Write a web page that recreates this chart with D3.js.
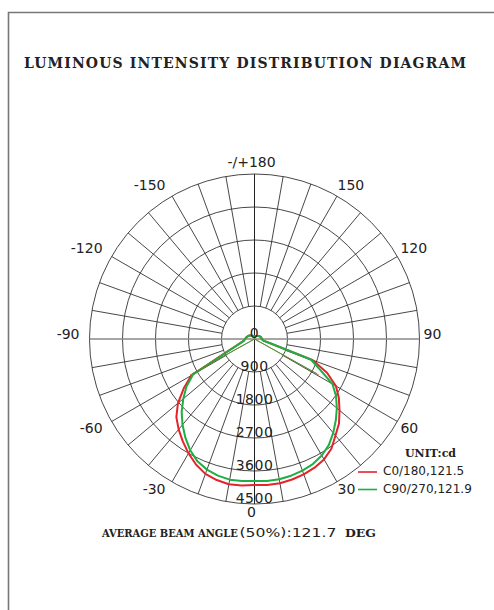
<!DOCTYPE html>
<html><head><meta charset="utf-8">
<script src="https://cdn.jsdelivr.net/npm/d3@7"></script>
<style>html,body{margin:0;padding:0;background:#fff;} svg{display:block;}</style>
</head><body><svg id="c" width="494" height="610"></svg>
<script>
// ---- data ----
const gammaAngles = [0,5,10,15,20,25,30,35,40,45,50,55,60,65,70,75,80,85,90,95,100,105,110,115,120,125,130,135,140,145,150,155,160,165,170,175,180];
const c0Values   = [3982,3995,3995,3968,3927,3873,3791,3655,3436,3259,3027,2809,2564,2182,1691,436,245,218,196,196,191,183,175,164,150,139,131,120,109,101,93,85,79,76,74,71,71];
const c180Values = [3982,4009,4023,3982,3914,3777,3600,3409,3218,3014,2727,2359,1991,845,518,382,300,273,259,245,232,218,205,191,177,164,150,136,123,112,104,95,87,82,76,74,71];
const c90Values  = [3873,3886,3886,3859,3818,3764,3668,3532,3341,3136,2932,2714,2455,1964,1636,423,245,218,196,196,191,183,175,164,150,139,131,120,109,101,93,85,79,76,74,71,71];
const c270Values = [3873,3886,3895,3859,3791,3682,3505,3286,3055,2809,2536,2264,1936,807,510,376,300,273,259,245,232,218,205,191,177,164,150,136,123,112,104,95,87,82,76,74,71];
const seriesNames = ["C0/180,121.5","C90/270,121.9"];
const beamAngles = [121.5,121.9];
const averageBeam = 121.7;
const ringValues = [0,900,1800,2700,3600,4500];
const angleTicks = [0,30,60,90,120,150,180,-150,-120,-90,-60,-30];
const angleLabels = ["0","30","60","90","120","150","-/+180","-150","-120","-90","-60","-30"];
const spokeAngles = [0,10,20,30,40,50,60,70,80,90,100,110,120,130,140,150,160,170,180,190,200,210,220,230,240,250,260,270,280,290,300,310,320,330,340,350];

// ---- layout ----
const W = 494, H = 610;
const cx = 254.5, cy = 339, R = 165;
const svg = d3.select("#c");
const rad = d => d * Math.PI / 180;
const r = d3.scaleLinear().domain([0, 4500]).range([0, R]);

// frame
svg.append("path").attr("d", `M8.5,${H} L8.5,12.5 L${W},12.5`)
  .attr("fill","none").attr("stroke","#777").attr("stroke-width",1.6);

// title
svg.append("text").attr("x",24).attr("y",68)
  .attr("textLength",442).attr("lengthAdjust","spacing")
  .style("font-family","'DejaVu Serif'").style("font-weight","bold").style("font-size","14px")
  .attr("fill","#222").text("LUMINOUS INTENSITY DISTRIBUTION DIAGRAM");

const g = svg.append("g").attr("transform",`translate(${cx},${cy})`);

// rings
g.selectAll("circle.ring").data(ringValues.slice(1)).enter().append("circle")
  .attr("r", d => r(d)).attr("fill","none").attr("stroke","#333").attr("stroke-width",0.9);

// spokes (from first ring outward)
g.selectAll("line.spoke").data(spokeAngles.filter(a => a % 90 !== 0)).enter().append("line")
  .attr("x1", a => r(ringValues[1]) * Math.sin(rad(a)))
  .attr("y1", a => r(ringValues[1]) * Math.cos(rad(a)))
  .attr("x2", a => R * Math.sin(rad(a)))
  .attr("y2", a => R * Math.cos(rad(a)))
  .attr("stroke","#333").attr("stroke-width",0.9);
// vertical axis (0 / 180)
g.append("line").attr("x1",0).attr("x2",0).attr("y1",-R).attr("y2",R)
  .attr("stroke","#222").attr("stroke-width",1);
// horizontal axis (90 / -90)
g.append("line").attr("x1",-R).attr("x2",R).attr("y1",0).attr("y2",0)
  .attr("stroke","#888").attr("stroke-width",1.6);

// angle labels
g.selectAll("text.ang").data(angleTicks).enter().append("text")
  .attr("x", a => -3 + 172 * Math.sin(rad(a)))
  .attr("y", a => { const c = Math.cos(rad(a)); return c > 0.01 ? 168 * c + 10 : 172 * c; })
  .attr("text-anchor", a => { const s = Math.sin(rad(a)); return s > 0.01 ? "start" : (s < -0.01 ? "end" : "middle"); })
  .style("font-family","'DejaVu Sans'").style("font-size","14px").attr("fill","#222")
  .text((a,i) => angleLabels[i]);

// curves
const radial = d3.lineRadial().curve(d3.curveLinear)
  .angle(d => Math.PI - rad(d[0])).radius(d => r(d[1]));
function planePoints(rightVals, leftVals) {
  const left = gammaAngles.map((a,i) => [-a, leftVals[i]]).reverse();
  const right = gammaAngles.slice(1).map((a,i) => [a, rightVals[i+1]]);
  return left.concat(right);
}
const series = [
  {name: seriesNames[0], color:"#e5232b", pts: planePoints(c0Values, c180Values), vals: c0Values.concat(c180Values), beam: beamAngles[0]},
  {name: seriesNames[1], color:"#1fae43", pts: planePoints(c90Values, c270Values), vals: c90Values.concat(c270Values), beam: beamAngles[1]}
];
series.forEach(s => {
  g.append("path").attr("d", radial(s.pts)).attr("fill","none")
    .attr("stroke", s.color).attr("stroke-width",2).attr("stroke-linejoin","round");
});
// beam angle lines (50% of max)
series.forEach((s,k) => {
  const half = s.beam / 2, len = r(d3.max(s.vals) / 2);
  [half, -half].forEach(a => {
    g.append("line").attr("x1",0).attr("y1",0)
      .attr("x2", len * Math.sin(rad(a))).attr("y2", len * Math.cos(rad(a)))
      .attr("stroke", k === 0 ? "#b06a2a" : "#3d9b3d").attr("stroke-width",1).attr("opacity",0.9);
  });
});

// ring labels
g.selectAll("text.ringlab").data(ringValues).enter().append("text")
  .attr("x",0).attr("y", d => r(d) - 1.5).attr("text-anchor","middle")
  .style("font-family","'DejaVu Sans'").style("font-size","14px").style("letter-spacing","0.5px")
  .attr("fill","#222").text(d => d);

// legend
svg.append("text").attr("x",405).attr("y",457)
  .style("font-family","'DejaVu Serif'").style("font-weight","bold").style("font-size","11px")
  .attr("fill","#222").text("UNIT:cd");
series.forEach((s,i) => {
  const y = 472 + i * 17.5;
  svg.append("line").attr("x1",358).attr("x2",377).attr("y1",y).attr("y2",y)
    .attr("stroke", s.color).attr("stroke-width",1.6);
  svg.append("text").attr("x",383).attr("y", y + 3 + i*0.5)
    .style("font-family","'DejaVu Sans'").style("font-size","12px")
    .attr("fill","#222").text(s.name);
});

// beam angle caption: each part horizontally scaled to its width in the reference
const capY = 537;
function fitText(txt, x, width, family, weight, size) {
  const t = svg.append("text").attr("x",0).attr("y",0)
    .style("font-family",family).style("font-weight",weight).style("font-size",size)
    .attr("fill","#222").text(txt);
  const natural = t.node().getComputedTextLength() || width;
  t.attr("transform", `translate(${x},${capY}) scale(${width / natural},1)`);
}
fitText("AVERAGE BEAM ANGLE", 102, 136, "'DejaVu Serif'", "bold", "11.5px");
fitText(`(50%):${averageBeam}`, 239.5, 97, "'DejaVu Sans'", "normal", "13px");
fitText("DEG", 345, 31, "'DejaVu Serif'", "bold", "11.5px");
</script></body></html>
